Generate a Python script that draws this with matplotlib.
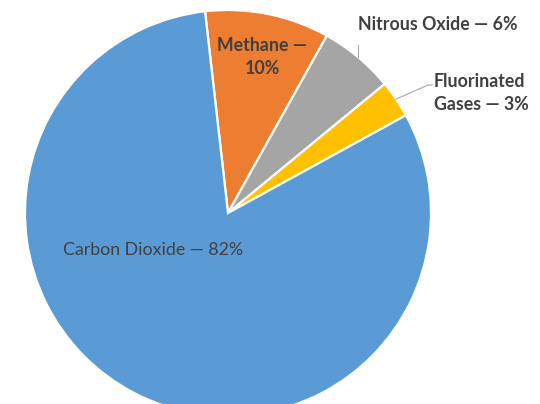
import numpy as np
import matplotlib.pyplot as plt

gases = ['Methane', 'Nitrous Oxide', 'Fluorinated Gases', 'Carbon Dioxide']
shares = [10, 6, 3, 82]
colors = ['#ED7D31', '#A5A5A5', '#FFC000', '#5B9BD5']

plt.rcParams['font.family'] = ['Lato', 'DejaVu Sans']

fig = plt.figure(figsize=(5.4, 4.04), dpi=100)
ax = fig.add_axes([0, 0, 1, 1])

# pie is drawn in pixel-like units so the label placement is easy
cx, cy, R = 228, 191, 203
wedges, _ = ax.pie(shares, colors=colors, startangle=96.5, counterclock=False,
                   center=(cx, cy), radius=R,
                   wedgeprops=dict(edgecolor='white', linewidth=1.6))
ax.set_xlim(0, 540)
ax.set_ylim(0, 404)
ax.set_aspect('equal')
ax.axis('off')

txt = '#404040'
fs = 12.8
def mid_pt(w, r):
    a = np.deg2rad((w.theta1 + w.theta2) / 2)
    return cx + r * np.cos(a), cy + r * np.sin(a)

# Methane, inside
ax.text(262, 404 - 57, f'{gases[0]} \u2014\n{shares[0]}%', ha='center', va='center',
        fontsize=fs, fontweight='bold', color=txt, linespacing=1.45)

# Nitrous oxide, outside with a leader line
x0, y0 = mid_pt(wedges[1], R)
ax.plot([x0, x0], [y0, 404 - 45], color='#A6A6A6', lw=0.8)
ax.text(358, 404 - 25, f'{gases[1]} \u2014 {shares[1]}%', ha='left', va='center',
        fontsize=fs, fontweight='bold', color=txt)

# Fluorinated gases
x0, y0 = mid_pt(wedges[2], R)
ax.plot([x0, 428, 432], [y0, 404 - 85, 404 - 85], color='#A6A6A6', lw=0.8)
ax.text(434, 404 - 93, 'Fluorinated\nGases \u2014 %d%%' % shares[2], ha='left', va='center',
        fontsize=fs, fontweight='bold', color=txt, linespacing=1.45)

# Carbon dioxide, inside
ax.text(153, 404 - 250, f'{gases[3]} \u2014 {shares[3]}%', ha='center', va='center',
        fontsize=fs, color=txt)

fig.savefig('out.png', dpi=100)
